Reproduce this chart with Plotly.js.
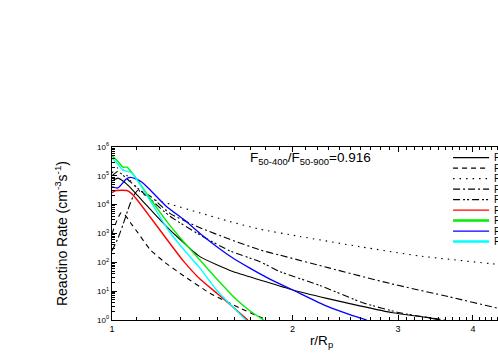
<!DOCTYPE html>
<html>
<head>
<meta charset="utf-8">
<script src="https://cdn.plot.ly/plotly-3.0.1.min.js"></script>
<style>
html, body { margin: 0; padding: 0; overflow: hidden; background: #fff; }
#chart { width: 560px; height: 360px; }
</style>
</head>
<body>
<div id="chart"></div>
<script>
// ---- data ----
const rSolid = [1.0, 1.023, 1.043, 1.076, 1.105, 1.157, 1.225, 1.298, 1.402, 1.591, 1.765, 2.003, 2.282, 2.59, 2.94, 3.35, 3.52];
const rateSolid = [6.6e4, 8.3e4, 6.6e4, 3.7e4, 2.0e4, 7.1e3, 2.0e3, 631, 158, 47.9, 24.5, 11.0, 5.62, 3.09, 1.78, 1.23, 1.0];

const rDash = [1.0, 1.019, 1.035, 1.051, 1.076, 1.105, 1.157, 1.225, 1.298, 1.457, 1.634, 1.812];
const rateDash = [1.0e3, 2.8e3, 5.2e3, 4.4e3, 2.2e3, 1.05e3, 280, 100, 42, 8.5, 2.6, 1.0];

const rDot = [1.0, 1.023, 1.043, 1.072, 1.114, 1.157, 1.249, 1.402, 1.572, 1.765, 2.058, 2.59, 3.26, 4.4, 5.0];
const rateDot = [1.26e5, 1.9e5, 1.58e5, 7.1e4, 2.8e4, 1.66e4, 1.05e4, 5.2e3, 2.6e3, 1.41e3, 790, 350, 166, 85, 63];

const rDashDot = [1.0, 1.023, 1.043, 1.063, 1.084, 1.105, 1.157, 1.249, 1.402, 1.572, 1.765, 1.905, 2.309, 2.906, 3.659, 4.4, 5.0];
const rateDashDot = [251, 676, 2.0e3, 6.6e3, 1.9e4, 3.16e4, 2.0e4, 5.0e3, 1.58e3, 631, 269, 178, 63, 18.6, 6.3, 2.57, 1.41];

const rDashDotDot = [1.0, 1.023, 1.072, 1.114, 1.157, 1.249, 1.402, 1.572, 1.765, 1.905, 2.222, 2.62, 3.02, 3.589];
const rateDashDotDot = [1.0e5, 1.41e5, 6.3e4, 3.16e4, 1.58e4, 3.98e3, 891, 251, 105, 47.9, 15.8, 3.98, 1.78, 1.0];

const rRed = [1.0, 1.0155, 1.039, 1.059, 1.076, 1.096, 1.157, 1.202, 1.315, 1.402, 1.496, 1.591, 1.685];
const rateRed = [2.63e4, 3.09e4, 3.16e4, 3.09e4, 2.51e4, 1.66e4, 3.8e3, 1.32e3, 112, 26.3, 8.5, 2.82, 1.0];

const rGreen = [1.0, 1.023, 1.043, 1.059, 1.076, 1.114, 1.157, 1.202, 1.234, 1.298, 1.402, 1.496, 1.614, 1.698, 1.79];
const rateGreen = [5.0e5, 3.16e5, 2.0e5, 2.0e5, 1.41e5, 5.25e4, 1.66e4, 5.5e3, 2.63e3, 724, 120, 26.3, 5.0, 2.09, 1.0];

const rBlue = [1.0, 1.023, 1.039, 1.055, 1.072, 1.096, 1.122, 1.157, 1.234, 1.315, 1.402, 1.494, 1.591, 1.698, 1.834, 2.003, 2.282, 2.5, 2.661];
const rateBlue = [4.17e4, 3.8e4, 5.25e4, 7.6e4, 8.9e4, 7.9e4, 6.0e4, 3.3e4, 8.5e3, 3.16e3, 1.0e3, 355, 141, 63, 26.3, 11.0, 3.02, 1.51, 1.0];

const rCyan = [1.0, 1.023, 1.043, 1.076, 1.105, 1.157, 1.234, 1.298, 1.402, 1.496, 1.591, 1.672];
const rateCyan = [4.17e5, 2.51e5, 1.58e5, 1.32e5, 6.6e4, 1.41e4, 1.58e3, 398, 63, 10.5, 2.82, 1.0];

const seriesNames = ['F1', 'F2', 'F3', 'F4', 'F5', 'F6', 'F7', 'F8', 'F9'];

const xTickVals = [1, 2, 3, 4];
const xTickText = ['1', '2', '3', '4'];
const xMinorVals = [1.1,1.2,1.3,1.4,1.5,1.6,1.7,1.8,1.9,2.1,2.2,2.3,2.4,2.5,2.6,2.7,2.8,2.9,3.1,3.2,3.3,3.4,3.5,3.6,3.7,3.8,3.9,4.1,4.2,4.3,4.4,4.5,4.6,4.7,4.8,4.9];
const yTickVals = [1, 10, 100, 1e3, 1e4, 1e5, 1e6];
const yTickText = ['10<sup>0</sup>', '10<sup>1</sup>', '10<sup>2</sup>', '10<sup>3</sup>', '10<sup>4</sup>', '10<sup>5</sup>', '10<sup>6</sup>'];

// ---- styles ----
const styles = [
  {x: rSolid, y: rateSolid, color: '#000000', dash: 'solid', width: 1.1},
  {x: rDash, y: rateDash, color: '#000000', dash: '5px,4px', width: 1.1},
  {x: rDot, y: rateDot, color: '#000000', dash: '1.5px,5px', width: 1.1},
  {x: rDashDot, y: rateDashDot, color: '#000000', dash: '7px,3px,2px,3px', width: 1.1},
  {x: rDashDotDot, y: rateDashDotDot, color: '#000000', dash: '7px,3px,2px,2px,2px,3px', width: 1.1},
  {x: rRed, y: rateRed, color: '#ff0000', dash: 'solid', width: 1.4},
  {x: rGreen, y: rateGreen, color: '#00ee00', dash: 'solid', width: 1.4},
  {x: rBlue, y: rateBlue, color: '#0000ff', dash: 'solid', width: 1.3},
  {x: rCyan, y: rateCyan, color: '#00ffff', dash: 'solid', width: 1.4}
];

const traces = styles.map((s, i) => ({
  x: s.x, y: s.y, type: 'scatter', mode: 'lines', name: seriesNames[i],
  line: {color: s.color, dash: s.dash, width: s.width, shape: 'spline', smoothing: 0.5},
  showlegend: false, hoverinfo: 'skip'
}));

// manual compact legend (paper coordinates)
const shapes = [];
const annotations = [];
const legX0 = 0.814, legX1 = 0.900, legTop = 0.939, legStep = 0.0607;
styles.forEach((s, i) => {
  const yy = legTop - i * legStep;
  shapes.push({type: 'line', xref: 'paper', yref: 'paper', x0: legX0, x1: legX1, y0: yy, y1: yy,
    line: {color: s.color, dash: s.dash, width: (s.color === '#000000' || s.color === '#0000ff' || s.color === '#ff0000') ? 1.3 : 2.5}});
  annotations.push({xref: 'paper', yref: 'paper', x: legX1 + 0.006, y: yy, xanchor: 'left', yanchor: 'middle',
    text: seriesNames[i], showarrow: false, font: {family: 'Arial, Liberation Sans, sans-serif', size: 10, color: '#000'}});
});
annotations.push({xref: 'paper', yref: 'paper', x: 0.325, y: 0.936, xanchor: 'left', yanchor: 'middle',
  text: 'F<sub>50-400</sub>/F<sub>50-900</sub>=0.916', showarrow: false,
  font: {family: 'Arial, Liberation Sans, sans-serif', size: 13.5, color: '#000'}});

const layout = {
  width: 560, height: 360,
  margin: {l: 112, r: 29, t: 147, b: 40},
  paper_bgcolor: '#fff', plot_bgcolor: '#fff',
  font: {family: 'Arial, Liberation Sans, sans-serif', color: '#000'},
  xaxis: {
    type: 'log', range: [0, Math.log10(5)],
    tickmode: 'array', tickvals: xTickVals, ticktext: xTickText,
    ticks: 'inside', ticklen: 5, tickwidth: 1, tickcolor: '#000',
    minor: {tickmode: 'array', tickvals: xMinorVals, ticks: 'inside', ticklen: 3, tickcolor: '#000', showgrid: false},
    showline: true, linecolor: '#000', linewidth: 1.3, mirror: 'ticks',
    showgrid: false, zeroline: false,
    tickfont: {size: 9},
    title: {text: 'r/R<sub>p</sub>', font: {size: 13.5}, standoff: 2}
  },
  yaxis: {
    type: 'log', range: [0, 6],
    tickmode: 'array', tickvals: yTickVals, ticktext: yTickText,
    ticks: 'inside', ticklen: 5, tickwidth: 1, tickcolor: '#000',
    minor: {dtick: 'D1', ticks: 'inside', ticklen: 3, tickcolor: '#000', showgrid: false},
    showline: true, linecolor: '#000', linewidth: 1.3, mirror: 'ticks',
    showgrid: false, zeroline: false,
    tickfont: {size: 8},
    title: {text: 'Reactino Rate (cm<sup>-3</sup>s<sup>-1</sup>)', font: {size: 14}, standoff: 26}
  },
  shapes: shapes,
  annotations: annotations,
  showlegend: false
};

Plotly.newPlot('chart', traces, layout, {staticPlot: true, displayModeBar: false});
</script>
</body>
</html>
